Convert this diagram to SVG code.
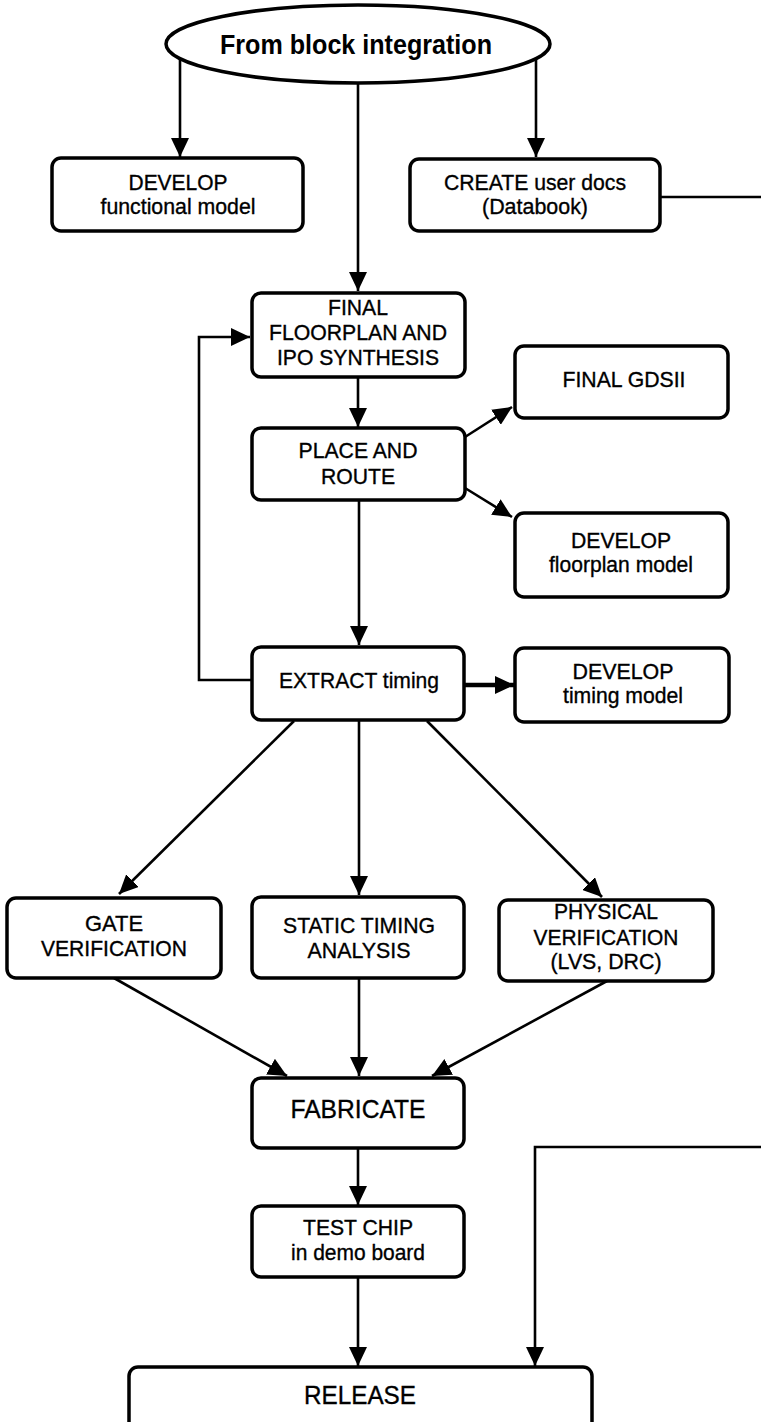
<svg xmlns="http://www.w3.org/2000/svg" width="761" height="1422" viewBox="0 0 761 1422">
  <style>
    .box { fill: #fff; stroke: #000; stroke-width: 3.5; }
    .ln { fill: none; stroke: #000; stroke-width: 2.6; }
    .t { font-family: "Liberation Sans", Arial, sans-serif; font-size: 22px; fill: #000; stroke: #000; stroke-width: 0.35; text-anchor: middle; }
    .tl { font-family: "Liberation Sans", Arial, sans-serif; font-size: 26px; fill: #000; stroke: #000; stroke-width: 0.35; text-anchor: middle; }
    .title { font-family: "Liberation Sans", Arial, sans-serif; font-size: 28px; font-weight: bold; fill: #000; text-anchor: middle; }
  </style>
  <defs>
    <marker id="ah" markerUnits="userSpaceOnUse" markerWidth="19" markerHeight="18" viewBox="0 0 19 18" refX="19" refY="9" orient="auto">
      <path d="M0,0 L19,9 L0,18 z" fill="#000"/>
    </marker>
  </defs>

  <!-- connectors -->
  <g id="connectors">
    <path class="ln" d="M180,50 V157" marker-end="url(#ah)"/>
    <path class="ln" d="M536,50 V157" marker-end="url(#ah)"/>
    <path class="ln" d="M358,80 V291" marker-end="url(#ah)"/>
    <path class="ln" d="M660,197 H761"/>
    <path class="ln" d="M252,680 H199 V337 H250" marker-end="url(#ah)"/>
    <path class="ln" d="M358,377 V427" marker-end="url(#ah)"/>
    <path class="ln" d="M465,437 L512,407" marker-end="url(#ah)"/>
    <path class="ln" d="M465,488 L512,517" marker-end="url(#ah)"/>
    <path class="ln" d="M359,500 V645" marker-end="url(#ah)"/>
    <path class="ln" d="M464,685 H514" style="stroke-width:4.5" marker-end="url(#ah)"/>
    <path class="ln" d="M294,721 L119,894" marker-end="url(#ah)"/>
    <path class="ln" d="M359,721 V895" marker-end="url(#ah)"/>
    <path class="ln" d="M427,721 L602,897" marker-end="url(#ah)"/>
    <path class="ln" d="M114,978 L287,1076" marker-end="url(#ah)"/>
    <path class="ln" d="M359,978 V1076" marker-end="url(#ah)"/>
    <path class="ln" d="M607,981 L432,1076" marker-end="url(#ah)"/>
    <path class="ln" d="M358,1148 V1205" marker-end="url(#ah)"/>
    <path class="ln" d="M358,1277 V1366" marker-end="url(#ah)"/>
    <path class="ln" d="M761,1147 H535 V1366" marker-end="url(#ah)"/>
  </g>

  <g id="start">
    <ellipse cx="358" cy="44" rx="192" ry="39" class="box"/>
    <text class="title" x="356" y="54" textLength="272" lengthAdjust="spacingAndGlyphs">From block integration</text>
  </g>

  <g id="functional-model">
    <rect x="52" y="158" width="251" height="73" rx="9" class="box"/>
    <text class="t" x="178" y="190" textLength="99" lengthAdjust="spacingAndGlyphs">DEVELOP</text>
    <text class="t" x="178" y="214" textLength="155" lengthAdjust="spacingAndGlyphs">functional model</text>
  </g>

  <g id="user-docs">
    <rect x="410" y="159" width="250" height="72" rx="9" class="box"/>
    <text class="t" x="535" y="190" textLength="182" lengthAdjust="spacingAndGlyphs">CREATE user docs</text>
    <text class="t" x="535" y="214" textLength="106" lengthAdjust="spacingAndGlyphs">(Databook)</text>
  </g>

  <g id="floorplan-ipo">
    <rect x="252" y="293" width="213" height="84" rx="9" class="box"/>
    <text class="t" x="358" y="315" textLength="60" lengthAdjust="spacingAndGlyphs">FINAL</text>
    <text class="t" x="358" y="340" textLength="178" lengthAdjust="spacingAndGlyphs">FLOORPLAN AND</text>
    <text class="t" x="358" y="365" textLength="162" lengthAdjust="spacingAndGlyphs">IPO SYNTHESIS</text>
  </g>

  <g id="place-route">
    <rect x="252" y="428" width="213" height="72" rx="9" class="box"/>
    <text class="t" x="358" y="458" textLength="119" lengthAdjust="spacingAndGlyphs">PLACE AND</text>
    <text class="t" x="358" y="484" textLength="74" lengthAdjust="spacingAndGlyphs">ROUTE</text>
  </g>

  <g id="gdsii">
    <rect x="515" y="346" width="213" height="72" rx="9" class="box"/>
    <text class="t" x="624" y="387" textLength="123" lengthAdjust="spacingAndGlyphs">FINAL GDSII</text>
  </g>

  <g id="floorplan-model">
    <rect x="515" y="513" width="213" height="84" rx="9" class="box"/>
    <text class="t" x="621" y="548" textLength="100" lengthAdjust="spacingAndGlyphs">DEVELOP</text>
    <text class="t" x="621" y="572" textLength="144" lengthAdjust="spacingAndGlyphs">floorplan model</text>
  </g>

  <g id="extract-timing">
    <rect x="252" y="647" width="212" height="73" rx="9" class="box"/>
    <text class="t" x="359" y="688" textLength="160" lengthAdjust="spacingAndGlyphs">EXTRACT timing</text>
  </g>

  <g id="timing-model">
    <rect x="515" y="648" width="214" height="74" rx="9" class="box"/>
    <text class="t" x="623" y="679" textLength="101" lengthAdjust="spacingAndGlyphs">DEVELOP</text>
    <text class="t" x="623" y="703" textLength="120" lengthAdjust="spacingAndGlyphs">timing model</text>
  </g>

  <g id="gate-verification">
    <rect x="7" y="898" width="214" height="80" rx="9" class="box"/>
    <text class="t" x="114" y="931" textLength="58" lengthAdjust="spacingAndGlyphs">GATE</text>
    <text class="t" x="114" y="956" textLength="146" lengthAdjust="spacingAndGlyphs">VERIFICATION</text>
  </g>

  <g id="static-timing">
    <rect x="252" y="897" width="212" height="81" rx="9" class="box"/>
    <text class="t" x="359" y="933" textLength="152" lengthAdjust="spacingAndGlyphs">STATIC TIMING</text>
    <text class="t" x="359" y="958" textLength="103" lengthAdjust="spacingAndGlyphs">ANALYSIS</text>
  </g>

  <g id="physical-verification">
    <rect x="499" y="900" width="214" height="81" rx="9" class="box"/>
    <text class="t" x="606" y="919" textLength="104" lengthAdjust="spacingAndGlyphs">PHYSICAL</text>
    <text class="t" x="606" y="945" textLength="145" lengthAdjust="spacingAndGlyphs">VERIFICATION</text>
    <text class="t" x="606" y="969" textLength="111" lengthAdjust="spacingAndGlyphs">(LVS, DRC)</text>
  </g>

  <g id="fabricate">
    <rect x="252" y="1078" width="212" height="70" rx="9" class="box"/>
    <text class="tl" x="358" y="1118" textLength="135" lengthAdjust="spacingAndGlyphs">FABRICATE</text>
  </g>

  <g id="test-chip">
    <rect x="252" y="1206" width="212" height="71" rx="9" class="box"/>
    <text class="t" x="358" y="1235" textLength="110" lengthAdjust="spacingAndGlyphs">TEST CHIP</text>
    <text class="t" x="358" y="1260" textLength="134" lengthAdjust="spacingAndGlyphs">in demo board</text>
  </g>

  <g id="release">
    <rect x="129" y="1367" width="463" height="80" rx="9" class="box"/>
    <text class="tl" x="360" y="1404" textLength="112" lengthAdjust="spacingAndGlyphs">RELEASE</text>
  </g>
</svg>
